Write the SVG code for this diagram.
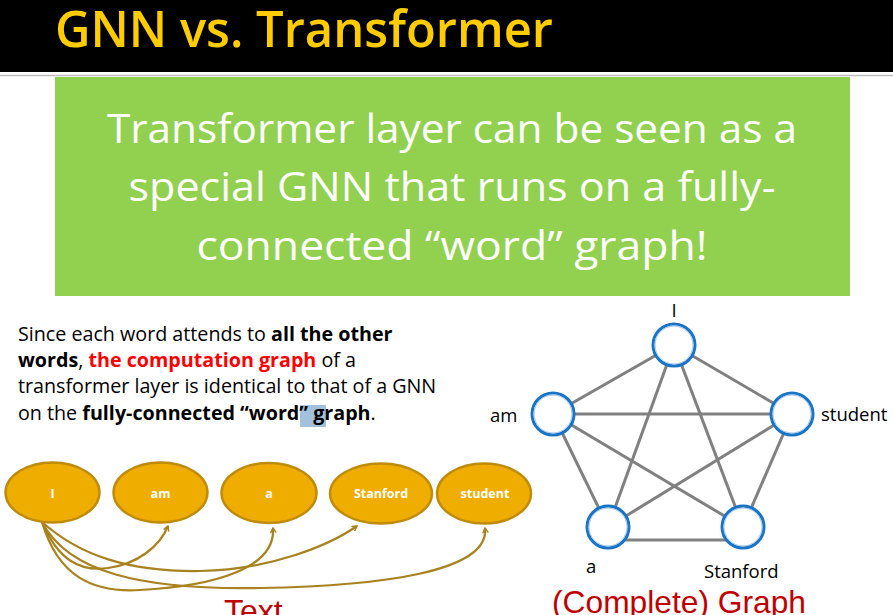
<svg xmlns="http://www.w3.org/2000/svg" width="893" height="615" viewBox="0 0 893 615">
<defs>
<style>
.title{font-family:"Open Sans","Noto Sans",sans-serif;font-weight:600;fill:#FFCC00;font-size:50px}
.banner{font-family:"Open Sans","Noto Sans",sans-serif;font-weight:400;fill:#FFFFFF;font-size:41px;text-anchor:middle}
.para{font-family:"Open Sans","Noto Sans",sans-serif;font-size:19.7px;fill:#000}
.b{font-weight:700}
.red{fill:#FF0000;font-weight:700}
.ell{fill:#EFAD00;stroke:#BF8B0A;stroke-width:2.5}
.elbl{font-family:"Open Sans","Noto Sans",sans-serif;font-weight:700;font-size:12.5px;fill:#FFFFFF;text-anchor:middle}
.arr{fill:none;stroke:#A8821E;stroke-width:2.2;marker-end:url(#ah)}
.edge{stroke:#808080;stroke-width:3;fill:none}
.gnode{fill:#FFFFFF;stroke:#1A74C6;stroke-width:3}
.ginner{fill:none;stroke:#9CC4E8;stroke-width:1}
.glbl{font-family:"Open Sans","Noto Sans",sans-serif;font-size:18.5px;fill:#000}
.cap{font-family:"Liberation Sans",Arial,sans-serif;font-size:32px;fill:#C00000}
</style>
<marker id="ah" viewBox="0 0 10 10" refX="8" refY="5" markerWidth="7" markerHeight="7" orient="auto" markerUnits="userSpaceOnUse">
<path d="M1,1 L8,5 L1,9" fill="none" stroke="#A8821E" stroke-width="2"/>
</marker>
</defs>
<rect x="0" y="0" width="893" height="615" fill="#FFFFFF"/>
<rect x="0" y="0" width="893" height="72" fill="#000000"/>
<line x1="0" y1="75.5" x2="893" y2="75.5" stroke="#BDBDBD" stroke-width="1.5"/>
<text class="title" x="55" y="47" textLength="498" lengthAdjust="spacingAndGlyphs">GNN vs. Transformer</text>
<g id="banner">
<rect x="55" y="77" width="795" height="219" fill="#92D050"/>
<text class="banner" x="452" y="143" textLength="690" lengthAdjust="spacingAndGlyphs">Transformer layer can be seen as a</text>
<text class="banner" x="452" y="201" textLength="647" lengthAdjust="spacingAndGlyphs">special GNN that runs on a fully-</text>
<text class="banner" x="452" y="260" textLength="511" lengthAdjust="spacingAndGlyphs">connected “word” graph!</text>
</g>
<g id="paragraph">
<rect x="300" y="405" width="26" height="22" fill="#A3C1DA"/>
<text class="para" x="18" y="341">Since each word attends to <tspan class="b">all the other</tspan></text>
<text class="para" x="18" y="367"><tspan class="b">words</tspan>, <tspan class="red">the computation graph</tspan> of a</text>
<text class="para" x="18" y="393">transformer layer is identical to that of a GNN</text>
<text class="para" x="18" y="420">on the <tspan class="b">fully-connected “word” graph</tspan>.</text>
</g>
<g id="connectors-text">
<path class="arr" d="M42,522 C58,560 80,572 108,568 C138,564 160,546 168,526"/>
<path class="arr" d="M42,522 C58,576 92,593 140,590 C215,586 276,568 273,528"/>
<path class="arr" d="M42,522 C80,556 130,572 200,571 C270,570 330,545 357,526"/>
<path class="arr" d="M42,522 C68,572 140,590 260,588 C380,586 490,572 485,528"/>
</g>
<g id="t-I"><ellipse class="ell" cx="52.5" cy="492.5" rx="47" ry="30"/><text class="elbl" x="52.5" y="498">I</text></g>
<g id="t-am"><ellipse class="ell" cx="160.5" cy="492.5" rx="47" ry="30"/><text class="elbl" x="160.5" y="498">am</text></g>
<g id="t-a"><ellipse class="ell" cx="269" cy="493" rx="47.5" ry="30"/><text class="elbl" x="269" y="498">a</text></g>
<g id="t-Stanford"><ellipse class="ell" cx="381" cy="493.5" rx="51" ry="30"/><text class="elbl" x="381" y="498">Stanford</text></g>
<g id="t-student"><ellipse class="ell" cx="484" cy="493.5" rx="47" ry="30"/><text class="elbl" x="485" y="498">student</text></g>
<text class="cap" x="224" y="622">Text</text>
<g id="graph-edges">
<line class="edge" x1="674" y1="345" x2="553" y2="414"/>
<line class="edge" x1="674" y1="345" x2="792" y2="414"/>
<line class="edge" x1="674" y1="345" x2="608" y2="527"/>
<line class="edge" x1="674" y1="345" x2="743" y2="527"/>
<line class="edge" x1="553" y1="414" x2="792" y2="414"/>
<line class="edge" x1="553" y1="414" x2="608" y2="527"/>
<line class="edge" x1="553" y1="414" x2="743" y2="527"/>
<line class="edge" x1="792" y1="414" x2="608" y2="527"/>
<line class="edge" x1="792" y1="414" x2="743" y2="527"/>
<line class="edge" x1="608" y1="540" x2="743" y2="540"/>
</g>
<g id="g-I"><circle class="gnode" cx="674" cy="345" r="21"/><circle class="ginner" cx="674" cy="345" r="19"/><text class="glbl" x="674" y="317" text-anchor="middle">I</text></g>
<g id="g-am"><circle class="gnode" cx="553" cy="414" r="21"/><circle class="ginner" cx="553" cy="414" r="19"/><text class="glbl" x="490" y="422">am</text></g>
<g id="g-student"><circle class="gnode" cx="792" cy="414" r="21"/><circle class="ginner" cx="792" cy="414" r="19"/><text class="glbl" x="821" y="421">student</text></g>
<g id="g-a"><circle class="gnode" cx="608" cy="527" r="21"/><circle class="ginner" cx="608" cy="527" r="19"/><text class="glbl" x="586" y="573">a</text></g>
<g id="g-Stanford"><circle class="gnode" cx="743" cy="527" r="21"/><circle class="ginner" cx="743" cy="527" r="19"/><text class="glbl" x="704" y="578">Stanford</text></g>
<text class="cap" x="552" y="613" textLength="254" lengthAdjust="spacingAndGlyphs">(Complete) Graph</text>
</svg>
